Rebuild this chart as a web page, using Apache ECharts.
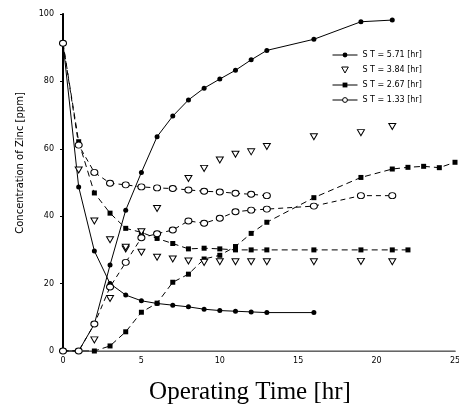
<!DOCTYPE html>
<html>
<head>
<meta charset="utf-8">
<script src="https://cdn.jsdelivr.net/npm/echarts@6/dist/echarts.min.js"></script>
<style>html,body{margin:0;padding:0;background:#fff}#c{width:459px;height:404px}</style>
</head>
<body>
<div id="c"></div>
<script>
// Legend names
const names = ['S T = 5.71 [hr]', 'S T = 3.84 [hr]', 'S T = 2.67 [hr]', 'S T = 1.33 [hr]'];
const xTicks = [0, 5, 10, 15, 20, 25];
const yTicks = [0, 20, 40, 60, 80, 100];

// ST = 5.71 hr (filled circles)
const st571DownT = [0,1,2,3,4,5,6,7,8,9,10,11,12,13,16];
const st571DownV = [91.3,48.7,29.7,20.0,16.6,14.9,14.1,13.6,13.1,12.4,12.0,11.8,11.6,11.4,11.4];
const st571UpT = [0,1,2,3,4,5,6,7,8,9,10,11,12,13,16,19,21];
const st571UpV = [0,0,8.0,25.5,41.8,53.0,63.6,69.7,74.5,78.0,80.7,83.3,86.4,89.2,92.5,97.7,98.2];

// ST = 3.84 hr (open triangles)
const st384DownT = [1,2,3,4,5,6,7,8,9,10,11,12,13,16,19,21];
const st384DownV = [53.7,38.6,33.0,30.3,29.3,27.8,27.3,26.7,26.3,26.5,26.5,26.5,26.5,26.5,26.6,26.5];
const st384UpT = [2,3,4,5,6,8,9,10,11,12,13,16,19,21];
const st384UpV = [3.3,15.6,30.8,35.4,42.3,51.2,54.2,56.7,58.4,59.1,60.7,63.6,64.8,66.6];

// ST = 2.67 hr (filled squares)
const st267DownT = [0,1,2,3,4,5,6,7,8,9,10,11,12,13,16,19,21,22];
const st267DownV = [91.3,62.1,46.9,40.9,36.4,35.2,33.4,31.9,30.3,30.5,30.3,30.0,30.0,30.0,30.0,30.0,30.0,30.0];
const st267UpT = [0,1,2,3,4,5,6,7,8,9,10,11,12,13,16,19,21,22,23,24,25];
const st267UpV = [0,0,0,1.5,5.7,11.5,14.2,20.4,22.8,27.3,28.4,31.0,34.9,38.2,45.5,51.5,54.0,54.5,54.8,54.4,56.0];

// ST = 1.33 hr (open circles)
const st133DownT = [0,1,2,3,4,5,6,7,8,9,10,11,12,13];
const st133DownV = [91.3,61.1,53.0,49.8,49.3,48.7,48.4,48.2,47.8,47.4,47.2,46.8,46.5,46.1];
const st133UpT = [0,1,2,3,4,5,6,7,8,9,10,11,12,13,16,19,21];
const st133UpV = [0,0,8.0,19.0,26.3,33.6,34.8,35.9,38.6,37.9,39.4,41.3,41.8,42.1,43.0,46.1,46.1];

function pts(ts, vs, hideFirst) {
  return ts.map((t, i) => i < hideFirst ? { value: [t, vs[i]], symbol: 'none' } : [t, vs[i]]);
}

const black = '#000';
const downTri = 'path://M0,0L10,0L5,9Z';
function circleSeries(name, data) {
  return { name, type: 'line', data, symbol: 'circle', symbolSize: 5, z: 3,
    itemStyle: { color: black }, lineStyle: { color: black, width: 1 }, emphasis: { disabled: true } };
}
function triSeries(name, data) {
  return { name, type: 'line', data, symbol: downTri, symbolSize: [7, 6], z: 4,
    itemStyle: { color: '#fff', borderColor: black, borderWidth: 1 },
    lineStyle: { width: 0, opacity: 0 }, emphasis: { disabled: true } };
}
function squareSeries(name, data) {
  return { name, type: 'line', data, symbol: 'rect', symbolSize: 5, z: 3,
    itemStyle: { color: black }, lineStyle: { color: black, width: 1, type: [6, 4] }, emphasis: { disabled: true } };
}
function openSeries(name, data) {
  return { name, type: 'line', data, symbol: 'circle', symbolSize: [7, 6], z: 5,
    itemStyle: { color: '#fff', borderColor: black, borderWidth: 1 },
    lineStyle: { color: black, width: 1, type: [5, 4] }, emphasis: { disabled: true } };
}

const chart = echarts.init(document.getElementById('c'), null, { renderer: 'canvas' });
chart.setOption({
  animation: false,
  backgroundColor: '#fff',
  grid: { left: 63, right: 4, top: 14, bottom: 53, containLabel: false, outerBoundsMode: 'none' },
  legend: {
    data: [
      { name: names[0], itemStyle: { color: black }, lineStyle: { color: black, width: 1, type: 'solid' } },
      { name: names[1], icon: downTri, itemStyle: { color: '#fff', borderColor: black, borderWidth: 1 } },
      { name: names[2], itemStyle: { color: black }, lineStyle: { color: black, width: 1, type: 'solid' } },
      { name: names[3], itemStyle: { color: '#fff', borderColor: black, borderWidth: 1 }, lineStyle: { color: black, width: 1, type: 'solid' } }
    ],
    orient: 'vertical', left: 327, top: 46,
    itemWidth: 25, itemHeight: 6, itemGap: 7,
    textStyle: { fontSize: 8, color: black, fontFamily: 'DejaVu Sans' },
    selectedMode: false
  },
  xAxis: [{
    type: 'value', min: xTicks[0], max: xTicks[xTicks.length - 1], interval: 5,
    name: 'Operating Time [hr]', nameLocation: 'middle', nameGap: 29,
    nameTextStyle: { fontFamily: 'Liberation Serif', fontSize: 25, color: black, padding: [0, 18, 0, 0] },
    axisLine: { lineStyle: { color: black, width: 1 } },
    axisTick: { show: false },
    axisLabel: { fontSize: 8, color: black, margin: 6, fontFamily: 'DejaVu Sans' },
    splitLine: { show: false }
  }, {
    type: 'value', position: 'top', min: 0, max: 25,
    axisLine: { show: true, lineStyle: { color: '#888', width: 1.5 } },
    axisTick: { show: false }, axisLabel: { show: false }, splitLine: { show: false }
  }],
  yAxis: [{
    type: 'value', min: yTicks[0], max: yTicks[yTicks.length - 1], interval: 20,
    axisLine: { show: true, lineStyle: { color: black, width: 1 } },
    axisTick: { show: true, inside: false, length: 3, lineStyle: { color: black } },
    axisLabel: { fontSize: 8, color: black, margin: 9, fontFamily: 'DejaVu Sans' },
    splitLine: { show: false }
  }, {
    type: 'value', position: 'right', min: 0, max: 100,
    axisLine: { show: true, lineStyle: { color: black, width: 2 } },
    axisTick: { show: false }, axisLabel: { show: false }, splitLine: { show: false }
  }],
  graphic: [{
    type: 'text', x: 20, y: 163, rotation: Math.PI / 2,
    style: { text: 'Concentration of Zinc [ppm]', fontSize: 10, fontFamily: 'DejaVu Sans',
      fill: black, align: 'center', verticalAlign: 'middle' }
  }],
  series: [
    circleSeries(names[0], pts(st571DownT, st571DownV, 1)),
    circleSeries(names[0], pts(st571UpT, st571UpV, 2)),
    triSeries(names[1], pts(st384DownT, st384DownV, 0)),
    triSeries(names[1], pts(st384UpT, st384UpV, 0)),
    squareSeries(names[2], pts(st267DownT, st267DownV, 1)),
    squareSeries(names[2], pts(st267UpT, st267UpV, 2)),
    openSeries(names[3], pts(st133DownT, st133DownV, 0)),
    openSeries(names[3], pts(st133UpT, st133UpV, 0))
  ]
});
</script>
</body>
</html>
